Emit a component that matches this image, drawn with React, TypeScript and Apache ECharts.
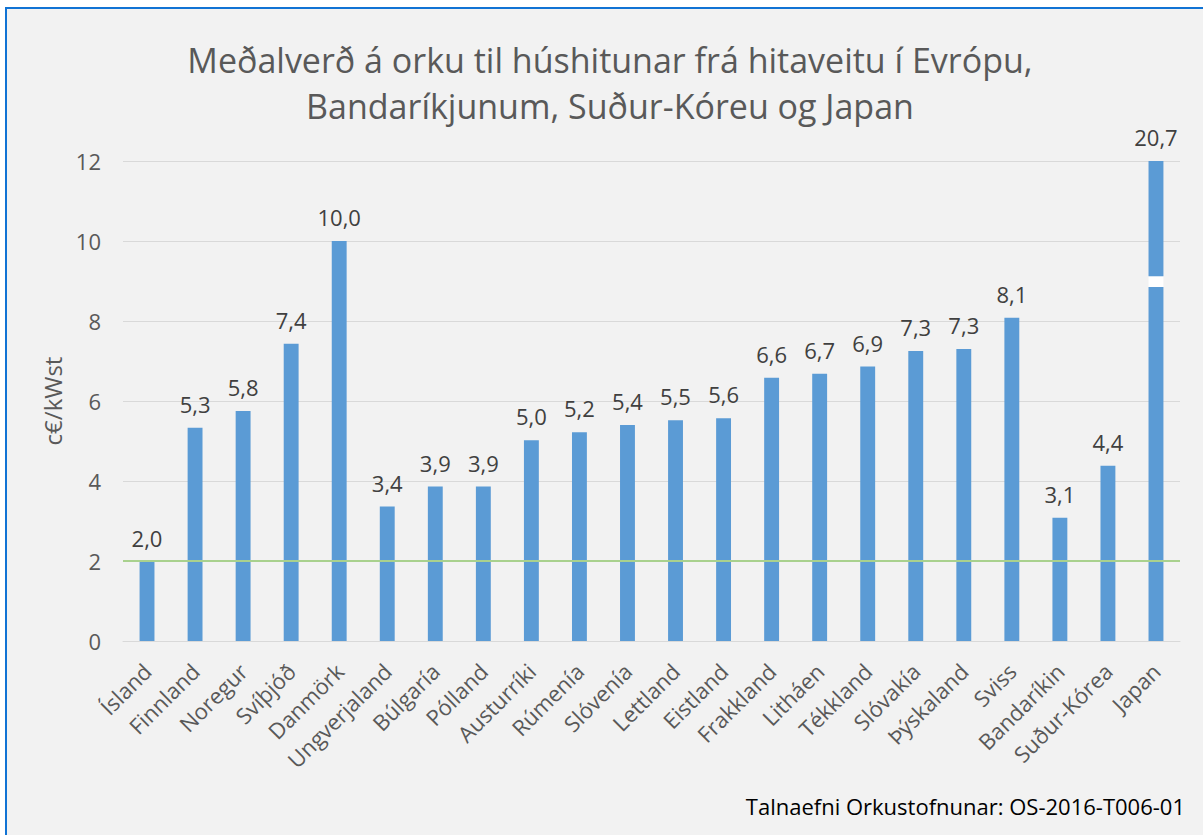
import React, { useEffect, useRef } from "react";
import * as echarts from "echarts";

const categories = [
  "Ísland", "Finnland", "Noregur", "Svíþjóð", "Danmörk", "Ungverjaland", "Búlgaría",
  "Pólland", "Austurríki", "Rúmenía", "Slóvenía", "Lettland", "Eistland", "Frakkland",
  "Litháen", "Tékkland", "Slóvakía", "Þýskaland", "Sviss", "Bandaríkin", "Suður-Kórea", "Japan",
];
const values = [
  1.98, 5.33, 5.75, 7.43, 10.0, 3.36, 3.86, 3.86, 5.02, 5.22, 5.4, 5.52, 5.57, 6.58,
  6.68, 6.86, 7.25, 7.3, 8.08, 3.08, 4.38, 20.7,
];
const axisMax = 12;
const breakFrom = 8.85;
const breakTo = 9.12;
const referenceLine = 2.0;
const yTicks = [0, 2, 4, 6, 8, 10, 12];

const fmt = (v: number) => v.toFixed(1).replace(".", ",");

const baseData = values.map((v) => (v > axisMax ? breakFrom : v));
const gapData = values.map((v) => (v > axisMax ? breakTo - breakFrom : 0));
const topData = values.map((v) => (v > axisMax ? axisMax - breakTo : 0));

export default function App() {
  const ref = useRef<HTMLDivElement>(null);
  useEffect(() => {
    document.body.style.margin = "0";
    const chart = echarts.init(ref.current!, null, { renderer: "svg" });
    const font = "'Open Sans', 'Noto Sans', sans-serif";
    const labelStyle = {
      show: true,
      position: "top" as const,
      color: "#404040",
      fontSize: 22,
      fontFamily: font,
      distance: 13,
    };
    chart.setOption({
      animation: false,
      backgroundColor: "#ffffff",
      graphic: [
        {
          type: "rect",
          z: -10,
          silent: true,
          shape: { x: 6, y: 8, width: 1260, height: 900 },
          style: { fill: "#F2F2F2", stroke: "#1173D4", lineWidth: 2 },
        },
        {
          type: "text",
          right: 18,
          top: 795,
          style: {
            text: "Talnaefni Orkustofnunar: OS-2016-T006-01",
            fill: "#000000",
            font: `22px ${font}`,
          },
        },
      ],
      title: {
        text: "Meðalverð á orku til húshitunar frá hitaveitu í Evrópu,\nBandaríkjunum, Suður-Kóreu og Japan",
        left: 605,
        textAlign: "center",
        top: 32,
        textStyle: {
          color: "#595959",
          fontSize: 34,
          fontWeight: "normal",
          fontFamily: font,
          lineHeight: 46,
        },
      },
      grid: { left: 123, right: 23, top: 161, bottom: 194, containLabel: false },
      xAxis: {
        type: "category",
        data: categories,
        axisLine: { lineStyle: { color: "#D9D9D9", width: 1 } },
        axisTick: { show: false },
        axisLabel: {
          rotate: 45,
          interval: 0,
          color: "#595959",
          fontSize: 22,
          fontFamily: font,
          margin: 26,
        },
      },
      yAxis: {
        type: "value",
        min: yTicks[0],
        max: yTicks[yTicks.length - 1],
        interval: 2,
        name: "c€/kWst",
        nameLocation: "middle",
        nameGap: 46,
        nameTextStyle: { color: "#595959", fontSize: 24, fontFamily: font },
        axisLine: { show: false },
        axisTick: { show: false },
        splitLine: { lineStyle: { color: "#D9D9D9", width: 1 } },
        axisLabel: { color: "#595959", fontSize: 22, fontFamily: font, margin: 22 },
      },
      series: [
        {
          type: "bar",
          stack: "s",
          data: baseData,
          barWidth: "31%",
          itemStyle: { color: "#5B9BD5" },
          label: {
            ...labelStyle,
            formatter: (p: any) => (values[p.dataIndex] > axisMax ? "" : fmt(values[p.dataIndex])),
          },
          markLine: {
            silent: true,
            symbol: "none",
            label: { show: false },
            lineStyle: { color: "#A9D18E", width: 2, type: "solid" },
            data: [{ yAxis: referenceLine }],
          },
        },
        {
          type: "bar",
          stack: "s",
          data: gapData,
          barWidth: "31%",
          itemStyle: { color: "#FFFFFF" },
        },
        {
          type: "bar",
          stack: "s",
          data: topData,
          barWidth: "31%",
          itemStyle: { color: "#5B9BD5" },
          label: {
            ...labelStyle,
            formatter: (p: any) => (values[p.dataIndex] > axisMax ? fmt(values[p.dataIndex]) : ""),
          },
        },
      ],
    });
    return () => chart.dispose();
  }, []);
  return <div ref={ref} style={{ width: 1203, height: 835 }} />;
}
